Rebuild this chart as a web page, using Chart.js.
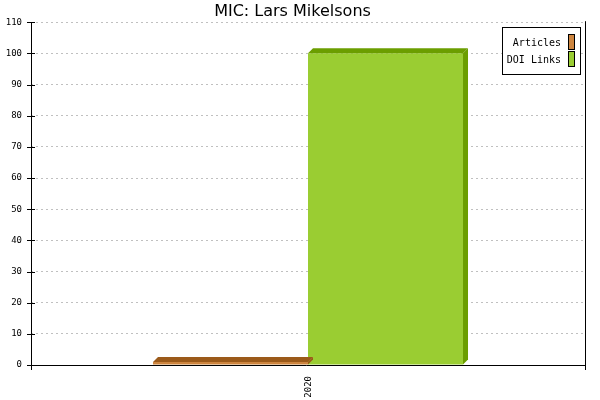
<!DOCTYPE html>
<html><head><meta charset="utf-8">
<script src="https://cdn.jsdelivr.net/npm/chart.js@4/dist/chart.umd.min.js"></script>
<style>html,body{margin:0;padding:0;background:#fff}</style>
</head><body>
<canvas id="c" width="600" height="400"></canvas>
<script>
const titleText = 'MIC: Lars Mikelsons';
const categories = ['2020'];
const seriesNames = ['Articles', 'DOI Links'];
const articles = [1];
const doiLinks = [100];
const yMin = 0, yMax = 110, yStep = 10;
const frontColors = ['#CD853F', '#9ACD32'];
const topColors = ['#9B5A1A', '#6B9E00'];

const depth = 5;
const bar3d = {
  id: 'bar3d',
  afterDatasetDraw(chart, args) {
    const ctx = chart.ctx;
    const i = args.index;
    args.meta.data.forEach(bar => {
      const p = bar.getProps(['x', 'y', 'base', 'width'], true);
      const x0 = p.x - p.width / 2, x1 = p.x + p.width / 2;
      const top = p.y, bottom = p.base;
      ctx.save();
      ctx.fillStyle = topColors[i];
      ctx.beginPath();
      ctx.moveTo(x0, top); ctx.lineTo(x0 + depth, top - depth);
      ctx.lineTo(x1 + depth, top - depth); ctx.lineTo(x1, top); ctx.closePath();
      ctx.fill();
      ctx.beginPath();
      ctx.moveTo(x1, top); ctx.lineTo(x1 + depth, top - depth);
      ctx.lineTo(x1 + depth, bottom - depth); ctx.lineTo(x1, bottom); ctx.closePath();
      ctx.fill();
      ctx.restore();
    });
  }
};

const frame = {
  id: 'frame',
  afterDraw(chart) {
    const ctx = chart.ctx;
    const a = chart.chartArea;
    const ys = chart.scales.y, xs = chart.scales.x;
    ctx.save();
    ctx.strokeStyle = '#000';
    ctx.lineWidth = 1;
    ctx.beginPath();
    // y axis
    ctx.moveTo(Math.round(a.left) + 0.5, a.top);
    ctx.lineTo(Math.round(a.left) + 0.5, a.bottom + 5);
    // x axis
    ctx.moveTo(a.left - 4, Math.round(a.bottom) + 0.5);
    ctx.lineTo(a.right + 1, Math.round(a.bottom) + 0.5);
    // right line
    ctx.moveTo(Math.round(a.right) + 0.5, a.top - 1);
    ctx.lineTo(Math.round(a.right) + 0.5, a.bottom + 5);
    // y tick marks
    ys.ticks.forEach(t => {
      const yy = Math.round(ys.getPixelForValue(t.value)) + 0.5;
      ctx.moveTo(a.left - 4, yy); ctx.lineTo(a.left + 4, yy);
    });
    ctx.stroke();
    // x tick label rotated
    ctx.fillStyle = '#000';
    ctx.font = '9px "DejaVu Sans Mono"';
    categories.forEach((c, k) => {
      const xx = xs.getPixelForTick(k);
      ctx.save();
      ctx.translate(xx + 1, a.bottom + 11);
      ctx.rotate(-Math.PI / 2);
      ctx.textAlign = 'right';
      ctx.textBaseline = 'middle';
      ctx.fillText(c, 0, 0);
      ctx.restore();
    });
    // legend
    const lx = 502.5, ly = 27.5, lw = 78, lh = 47;
    ctx.fillStyle = '#fff';
    ctx.fillRect(lx, ly, lw, lh);
    ctx.strokeRect(lx, ly, lw, lh);
    ctx.font = '10px "DejaVu Sans Mono"';
    ctx.textAlign = 'right';
    ctx.textBaseline = 'middle';
    chart.data.datasets.forEach((ds, k) => {
      const cy = 43 + k * 17;
      ctx.fillStyle = '#000';
      ctx.fillText(ds.label, 561, cy);
      ctx.fillStyle = frontColors[k];
      ctx.fillRect(568.5, cy - 8.5, 6, 15);
      ctx.strokeRect(568.5, cy - 8.5, 6, 15);
    });
    ctx.restore();
  }
};

new Chart(document.getElementById('c'), {
  type: 'bar',
  data: {
    labels: categories,
    datasets: [
      { label: seriesNames[0], data: articles, backgroundColor: frontColors[0], borderWidth: 0 },
      { label: seriesNames[1], data: doiLinks, backgroundColor: frontColors[1], borderWidth: 0 }
    ]
  },
  options: {
    responsive: false,
    devicePixelRatio: 1,
    animation: false,
    events: [],
    layout: { padding: { left: 0, right: 15, top: 0, bottom: 0 } },
    datasets: { bar: { categoryPercentage: 0.5596, barPercentage: 1 } },
    plugins: {
      legend: { display: false },
      tooltip: { enabled: false },
      title: {
        display: true, text: titleText, color: '#000',
        font: { family: '"DejaVu Sans"', size: 16, weight: 'normal', lineHeight: 1.2 },
        padding: { top: 2, bottom: 1 }
      }
    },
    scales: {
      x: {
        grid: { display: false },
        border: { display: false },
        ticks: { display: false },
        afterFit(s) { s.height = 35; }
      },
      y: {
        min: yMin, max: yMax,
        grid: { color: '#c0c0c0', lineWidth: 1, drawTicks: false },
        border: { display: false, dash: [2, 3] },
        ticks: {
          stepSize: yStep, color: '#000', padding: 9,
          font: { family: '"DejaVu Sans Mono"', size: 9 }
        },
        afterFit(s) { s.width = 31; }
      }
    }
  },
  plugins: [bar3d, frame]
});
</script>
</body></html>
